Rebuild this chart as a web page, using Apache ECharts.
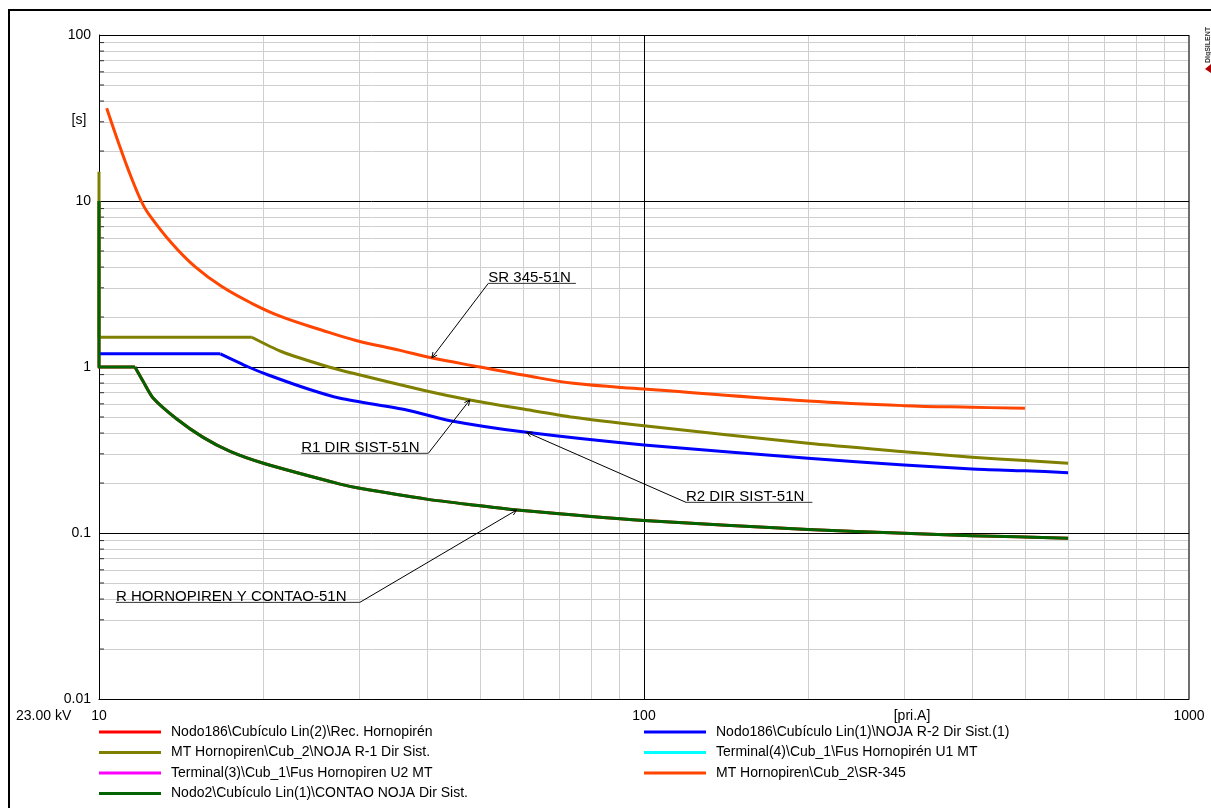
<!DOCTYPE html>
<html>
<head>
<meta charset="utf-8">
<script src="https://cdn.jsdelivr.net/npm/echarts@6/dist/echarts.min.js"></script>
<style>
  html, body { margin: 0; padding: 0; background: #fff; }
  #main { width: 1211px; height: 808px; }
</style>
</head>
<body>
<div id="main"></div>
<script>
// Time-current characteristics, 23.00 kV, ground overcurrent (51N)

// Axis ticks (log decades) and minor grid values
const xTicks = [10, 100, 1000];
const yTicks = [0.01, 0.1, 1, 10, 100];
const xMinor = [20, 30, 40, 50, 60, 70, 80, 90, 200, 300, 400, 500, 600, 700, 800, 900];
const yMinor = [0.02, 0.03, 0.04, 0.05, 0.06, 0.07, 0.08, 0.09,
                0.2, 0.3, 0.4, 0.5, 0.6, 0.7, 0.8, 0.9,
                2, 3, 4, 5, 6, 7, 8, 9,
                20, 30, 40, 50, 60, 70, 80, 90];

// Curves: [current pri.A, time s]
const recHornopiren = [[10, 10], [10, 1.0], [11.64, 1.0], [12.06, 0.815], [12.58, 0.648], [13.89, 0.486],
  [15.5, 0.378], [17.4, 0.31], [20.03, 0.263], [27.7, 0.197], [30.1, 0.186], [39.9, 0.16], [50, 0.146],
  [58.4, 0.1376], [100, 0.119], [200, 0.105], [300, 0.0995], [400, 0.0964], [600, 0.093]];
const nojaR2 = [[10, 1.2], [16.7, 1.2], [18.8, 1.0], [20.45, 0.895], [24.2, 0.737], [27.7, 0.648],
  [36.7, 0.551], [44.1, 0.475], [60.9, 0.404], [100, 0.339], [200, 0.282], [300, 0.257], [400, 0.243],
  [500, 0.237], [600, 0.231]];
const nojaR1 = [[10, 15], [10, 1.51], [19.07, 1.51], [21.6, 1.24], [26.4, 1.0], [29.5, 0.91],
  [39.9, 0.717], [47.9, 0.633], [60, 0.558], [74.2, 0.498], [100, 0.443], [200, 0.347], [300, 0.309],
  [400, 0.286], [500, 0.273], [600, 0.263]];
const fusU1 = [];
const fusU2 = [];
const sr345 = [[10.33, 36.2], [10.85, 22.6], [11.32, 15.4], [11.95, 10.0], [12.31, 8.43], [13.6, 5.56],
  [15.0, 4.02], [16.8, 3.05], [19.06, 2.42], [21.6, 2.01], [25.6, 1.67], [29.5, 1.45], [35.7, 1.26],
  [40.5, 1.14], [50, 1.0], [60, 0.895], [74.2, 0.797], [100, 0.737], [200, 0.624], [300, 0.585],
  [400, 0.572], [500, 0.564]];
const contaoNoja = [[10, 10], [10, 1.0], [11.64, 1.0], [12.06, 0.815], [12.58, 0.648], [13.89, 0.486],
  [15.5, 0.378], [17.4, 0.31], [20.03, 0.263], [27.7, 0.197], [30.1, 0.186], [39.9, 0.16], [50, 0.146],
  [58.4, 0.1376], [100, 0.119], [200, 0.105], [300, 0.0995], [400, 0.0964], [600, 0.093]];

const curveNames = [
  'Nodo186\\Cubículo Lin(2)\\Rec. Hornopirén',
  'Nodo186\\Cubículo Lin(1)\\NOJA R-2 Dir Sist.(1)',
  'MT Hornopiren\\Cub_2\\NOJA R-1 Dir Sist.',
  'Terminal(4)\\Cub_1\\Fus Hornopirén U1 MT',
  'Terminal(3)\\Cub_1\\Fus Hornopiren U2 MT',
  'MT Hornopiren\\Cub_2\\SR-345',
  'Nodo2\\Cubículo Lin(1)\\CONTAO NOJA Dir Sist.'
];
const curveData = [recHornopiren, nojaR2, nojaR1, fusU1, fusU2, sr345, contaoNoja];
// index of the point where the definite-time part ends and the inverse curve begins
const curveKnee = [2, 1, 2, 0, 0, 0, 2];
const curveSmooth = [0.25, 0.25, 0.25, 0.25, 0.25, 0.4, 0.25];
const curveColors = ['#ff0000', '#0000ff', '#808000', '#00ffff', '#ff00ff', '#ff4500', '#006400'];

// Legend layout: [curve index, column, row]
const legendSlots = [[0, 0, 0], [2, 0, 1], [4, 0, 2], [6, 0, 3], [1, 1, 0], [3, 1, 1], [5, 1, 2]];

// Callout labels: curve index, current where the leader touches the curve,
// underline start [x, y] and underline end x, and which underline end carries the leader
const callouts = [
  { text: 'SR 345-51N', curve: 5, hit: 40.8, from: [51.8, 3.19], to: 75.0, attach: 'from' },
  { text: 'R1 DIR SIST-51N', curve: 2, hit: 47.9, from: [23.5, 0.302], to: 40.2, attach: 'to' },
  { text: 'R2 DIR SIST-51N', curve: 1, hit: 60.9, from: [119.4, 0.153], to: 203.7, attach: 'from' },
  { text: 'R HORNOPIREN Y CONTAO-51N', curve: 6, hit: 58.4, from: [10.74, 0.0382], to: 30.1, attach: 'to' }
];

const FONT = '"Liberation Sans", Arial, Helvetica, sans-serif';
const fmt = v => String(+Number(v).toPrecision(6));

const chart = echarts.init(document.getElementById('main'), null, { renderer: 'canvas' });

const gridLines = [];
xMinor.forEach(v => gridLines.push({ xAxis: v }));
yMinor.forEach(v => gridLines.push({ yAxis: v }));
xTicks.forEach(v => gridLines.push({ xAxis: v, lineStyle: v === 1000 ? { color: '#6e6e6e', width: 2 } : { color: '#000', width: 1 } }));
yTicks.forEach(v => gridLines.push({ yAxis: v, lineStyle: { color: '#000', width: 1 } }));

const series = [
  {
    name: 'grid',
    type: 'line',
    data: [],
    silent: true,
    clip: false,
    symbol: 'none',
    z: 0,
    markLine: {
      silent: true,
      symbol: 'none',
      z: 0,
      animation: false,
      label: { show: false },
      emphasis: { disabled: true },
      lineStyle: { color: '#cfcfcf', width: 1, type: 'solid' },
      data: gridLines
    }
  },
  {
    name: 'ticks',
    type: 'scatter',
    data: yMinor.map(v => [xTicks[0], v]),
    symbol: 'rect',
    symbolSize: [5, 1],
    symbolOffset: [2.5, 0],
    itemStyle: { color: '#000' },
    silent: true,
    clip: false,
    z: 1
  }
];
curveNames.forEach((name, i) => {
  const d = curveData[i];
  const k = curveKnee[i];
  const common = {
    name: name,
    type: 'line',
    color: curveColors[i],
    showSymbol: false,
    symbol: 'none',
    clip: true,
    lineStyle: { width: 3, color: curveColors[i], join: 'round' },
    emphasis: { disabled: true },
    z: 3
  };
  // definite-time part (straight segments)
  series.push(Object.assign({}, common, { data: d.slice(0, k + 1), smooth: false }));
  // inverse-time part
  series.push(Object.assign({}, common, { data: d.slice(k), smooth: curveSmooth[i] }));
});

const legends = legendSlots.map(([ci, col, row]) => ({
  data: [curveNames[ci]],
  left: col === 0 ? 99 : 644,
  top: 725 + row * 20.5,
  padding: 0,
  orient: 'vertical',
  icon: 'rect',
  itemWidth: 62,
  itemHeight: 3,
  selectedMode: false,
  textStyle: { fontSize: 14, color: '#000', fontFamily: FONT, lineHeight: 14, padding: [0, 0, 0, 5] }
}));

chart.setOption({
  animation: false,
  backgroundColor: '#fff',
  textStyle: { fontFamily: FONT },
  grid: { left: 99, top: 35, width: 1090, height: 664, containLabel: false },
  xAxis: {
    type: 'log',
    logBase: 10,
    min: 10,
    max: 1000,
    axisLine: { show: true, lineStyle: { color: '#000', width: 1 } },
    axisTick: { show: false },
    splitLine: { show: false },
    axisLabel: { fontSize: 14, color: '#000', fontFamily: FONT, margin: 10, formatter: fmt,
      showMinLabel: true, showMaxLabel: true }
  },
  yAxis: {
    type: 'log',
    logBase: 10,
    min: 0.01,
    max: 100,
    axisLine: { show: true, lineStyle: { color: '#000', width: 1 } },
    axisTick: { show: false },
    splitLine: { show: false },
    axisLabel: { fontSize: 14, color: '#000', fontFamily: FONT, margin: 8, formatter: fmt,
      showMinLabel: true, showMaxLabel: true }
  },
  legend: legends,
  series: series
});

// Static texts and frame
const graphics = [
  { type: 'rect', shape: { x: 9, y: 10, width: 1300, height: 900 },
    style: { fill: 'none', stroke: '#000', lineWidth: 2 }, silent: true, z: 10 },
  { type: 'text', x: 16, y: 716, style: { text: '23.00 kV', fontSize: 14, fontFamily: FONT, fill: '#000', verticalAlign: 'middle' }, z: 10 },
  { type: 'text', x: 912, y: 716, style: { text: '[pri.A]', fontSize: 14, fontFamily: FONT, fill: '#000', align: 'center', verticalAlign: 'middle' }, z: 10 },
  { type: 'text', x: 79, y: 120, style: { text: '[s]', fontSize: 14, fontFamily: FONT, fill: '#000', align: 'center', verticalAlign: 'middle' }, z: 10 },
  { type: 'text', x: 1208, y: 45, rotation: Math.PI / 2,
    style: { text: 'DIgSILENT', fontSize: 7, fontWeight: 'bold', fontFamily: FONT, fill: '#333', align: 'center', verticalAlign: 'middle' }, z: 10 },
  { type: 'polygon', shape: { points: [[1205, 69], [1211, 64], [1211, 73]] }, style: { fill: '#b00000' }, z: 10 }
];

// Log-log interpolation along a curve
function timeAt(data, x) {
  for (let i = 1; i < data.length; i++) {
    const [x0, y0] = data[i - 1];
    const [x1, y1] = data[i];
    if (x1 > x0 && x >= x0 && x <= x1) {
      const t = (Math.log(x) - Math.log(x0)) / (Math.log(x1) - Math.log(x0));
      return Math.exp(Math.log(y0) + t * (Math.log(y1) - Math.log(y0)));
    }
  }
  return null;
}

callouts.forEach(c => {
  const px = v => chart.convertToPixel({ gridIndex: 0 }, v);
  const a = px(c.from);
  const b = px([c.to, c.from[1]]);
  const hitPt = px([c.hit, timeAt(curveData[c.curve], c.hit)]);
  const start = c.attach === 'from' ? a : b;
  graphics.push({ type: 'line', shape: { x1: a[0], y1: a[1], x2: b[0], y2: b[1] },
    style: { stroke: '#333', lineWidth: 1 }, silent: true, z: 12 });
  graphics.push({ type: 'line', shape: { x1: start[0], y1: start[1], x2: hitPt[0], y2: hitPt[1] },
    style: { stroke: '#000', lineWidth: 1 }, silent: true, z: 12 });
  // small open arrow head at the curve
  const ang = Math.atan2(start[1] - hitPt[1], start[0] - hitPt[0]);
  const L = 6, spread = 0.45;
  graphics.push({ type: 'polyline', shape: { points: [
      [hitPt[0] + L * Math.cos(ang - spread), hitPt[1] + L * Math.sin(ang - spread)],
      [hitPt[0], hitPt[1]],
      [hitPt[0] + L * Math.cos(ang + spread), hitPt[1] + L * Math.sin(ang + spread)]] },
    style: { stroke: '#000', lineWidth: 1, fill: 'none' }, silent: true, z: 12 });
  graphics.push({ type: 'text', x: a[0], y: a[1] + 2,
    style: { text: c.text, fontSize: 15, fontFamily: FONT, fill: '#000', align: 'left', verticalAlign: 'bottom' },
    silent: true, z: 12 });
});

chart.setOption({ graphic: graphics });
</script>
</body>
</html>
